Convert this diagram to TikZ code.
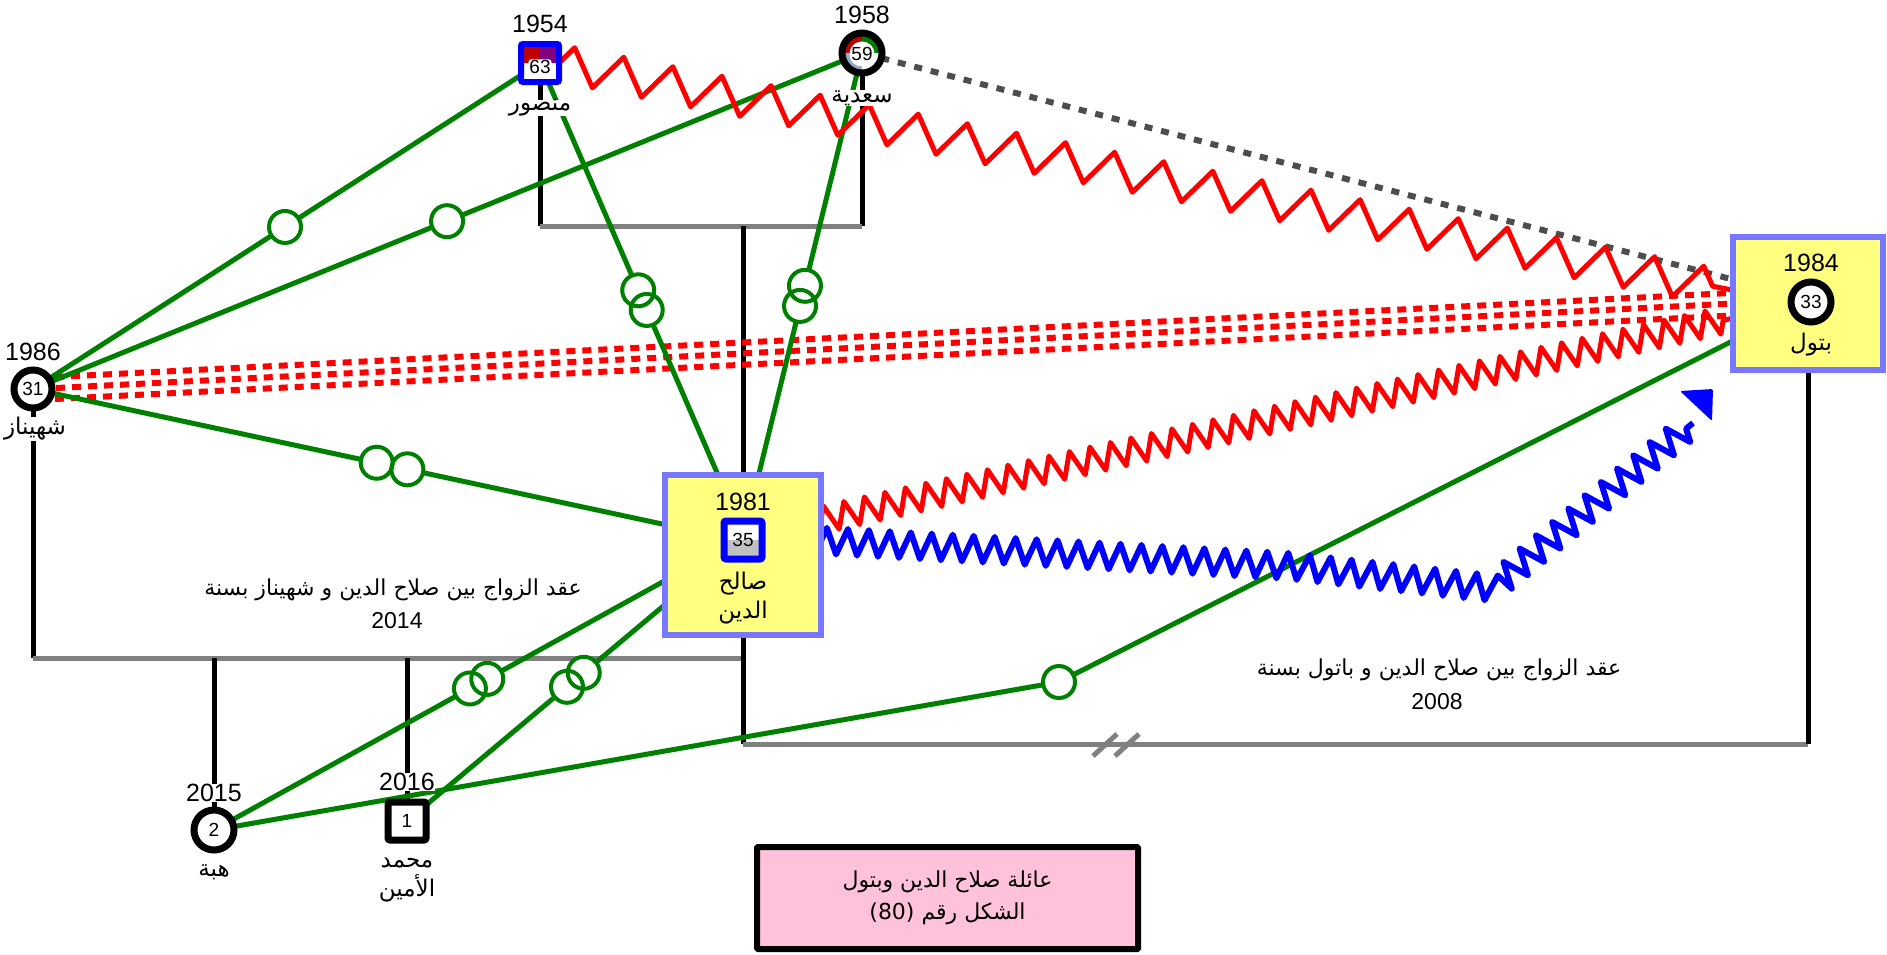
\documentclass[tikz,border=0pt]{standalone}
\usepackage{fontspec}
\setmainfont{Liberation Sans}
\newfontfamily\arfont[Script=Arabic]{DejaVu Sans}
\TeXXeTstate=1
\usetikzlibrary{decorations.pathmorphing,backgrounds,calc}
\newcommand{\AR}[1]{{\arfont\beginR #1\endR}}
\definecolor{boxblue}{RGB}{119,119,255}
\definecolor{gen}{RGB}{0,128,0}
\definecolor{lineg}{RGB}{128,128,128}
\definecolor{yel}{RGB}{255,255,128}
\definecolor{pinkf}{RGB}{255,194,218}
\definecolor{dred}{RGB}{192,0,0}
\definecolor{purp}{RGB}{128,0,128}
\definecolor{gblue}{RGB}{153,170,204}
\definecolor{dotg}{RGB}{77,77,77}
\definecolor{lgrey}{RGB}{192,192,192}
\begin{document}
\begin{tikzpicture}[x=1pt,y=-1pt,
  every node/.style={outer sep=0pt},
  yr/.style={font=\fontsize{25}{25}\selectfont, fill=white, inner sep=0.5pt},
  nm/.style={font=\arfont\fontsize{23}{29}\selectfont, fill=white, inner sep=0pt, align=center},
  lab/.style={font=\arfont\fontsize{22}{26}\selectfont, inner sep=1pt},
  num/.style={font=\fontsize{19}{19}\selectfont, inner sep=0.5pt},
  fem/.style={circle, draw=black, line width=7pt, fill=white, minimum size=40pt, inner sep=0pt},
  mal/.style={rectangle, draw=black, line width=7pt, fill=white, minimum size=38pt, inner sep=0pt, rounded corners=2pt},
  fam/.style={rectangle, draw=boxblue, fill=yel, line width=6pt, inner sep=0pt},
  kinline/.style={draw=black, line width=5pt},
  barline/.style={draw=lineg, line width=5pt},
  fus/.style={draw=gen, line width=5pt},
  ringf/.style={circle, fill=white, minimum size=32pt, inner sep=0pt},
  ringd/.style={circle, draw=gen, line width=4pt, minimum size=32pt, inner sep=0pt},
  hostbig/.style={draw=red, line width=5pt, line join=round, decorate, decoration={zigzag, segment length=50pt, amplitude=18pt}},
  hostfine/.style={draw=red, line width=5pt, line join=round, decorate, decoration={zigzag, segment length=21pt, amplitude=13pt}},
  abuse/.style={draw=blue, line width=6pt, line join=round, decorate, decoration={zigzag, segment length=21pt, amplitude=13pt}},
  distant/.style={draw=red, line width=6pt, dash pattern=on 9pt off 7pt},
  cutoff/.style={draw=dotg, line width=6pt, dash pattern=on 8pt off 9pt},
]
\useasboundingbox (0,0) rectangle (1887,954);

% ---- people ----
\node[yr] (y1954) at (540,24) {1954};
\node[mal, draw=blue, line width=6pt, path picture={
  \fill[dred] (path picture bounding box.north west) rectangle (path picture bounding box.center);
  \fill[purp] (path picture bounding box.north) rectangle (path picture bounding box.east);}] (mansour) at (540,63) {};
\node[num, fill=white, rounded corners=3pt, inner sep=1pt] (t63) at (540,67) {63};
\node[nm] (n-mansour) at (540,108) {\AR{منصور}};

\node[yr] (y1958) at (862,15) {1958};
\node[fem, path picture={
  \fill[dred] (path picture bounding box.north west) rectangle (path picture bounding box.center);
  \fill[gen] (path picture bounding box.north) rectangle (path picture bounding box.east);
  \fill[gblue] (path picture bounding box.west) rectangle (path picture bounding box.south);}] (saadia) at (862,53) {};
\node[num, circle, fill=white, minimum size=25pt, inner sep=0pt] (t59) at (862,54) {59};
\node[nm] (n-saadia) at (862,98) {\AR{سعدية}};

\node[yr] (y1986) at (33,352) {1986};
\node[fem, minimum size=38pt] (shahnaz) at (33,389) {};
\node[num] (t31) at (shahnaz) {31};
\node[nm] (n-shahnaz) at (35,429) {\AR{شهيناز}};

\node[fam, minimum width=156pt, minimum height=160pt] (salah) at (743,555) {};
\node[yr, fill=none] (y1981) at (743,502) {1981};
\node[mal, draw=blue, line width=7pt, path picture={
  \fill[lgrey] (path picture bounding box.west) rectangle (path picture bounding box.south east);}] (salahsq) at (743,540) {};
\node[num] (t35) at (salahsq) {35};
\node[nm, fill=none] (n-salah) at (743,598) {\AR{صالح}\\\AR{الدين}};

\node[fam, minimum width=150pt, minimum height=133pt] (batoul) at (1808,303.5) {};
\node[yr, fill=none] (y1984) at (1811,263) {1984};
\node[fem] (batoulc) at (1811,302) {};
\node[num] (t33) at (batoulc) {33};
\node[nm, fill=none] (n-batoul) at (1811,345) {\AR{بتول}};

\node[fem] (heba) at (214,830) {};
\node[num] (t2) at (heba) {2};
\node[yr] (y2015) at (214,793) {2015};
\node[nm] (n-heba) at (214,872) {\AR{هبة}};

\node[mal] (mohamed) at (407,821) {};
\node[num] (t1) at (mohamed) {1};
\node[yr] (y2016) at (407,782) {2016};
\node[nm] (n-mohamed) at (407,880) {\AR{محمد}\\\AR{الأمين}};

% ---- labels ----
\node[lab] (l1a) at (393,590) {\AR{عقد الزواج بين صلاح الدين و شهيناز بسنة}};
\node[yr, fill=none, font=\fontsize{23}{23}\selectfont] (l1b) at (397,621) {2014};
\node[lab] (l2a) at (1439,670) {\AR{عقد الزواج بين صلاح الدين و باتول بسنة}};
\node[yr, fill=none, font=\fontsize{23}{23}\selectfont] (l2b) at (1437,702) {2008};

\node[draw=black, fill=pinkf, line width=6pt, minimum width=381pt, minimum height=102pt, rounded corners=1pt,
      align=center, font=\arfont\fontsize{22}{32}\selectfont] (title) at (947.5,898)
  {\AR{عائلة صلاح الدين وبتول}\\\AR{الشكل رقم \beginL(80)\endL}};

% ---- anchor points ----
\coordinate (st1) at ($(salah.north west)!0.34!(salah.north east)$);
\coordinate (st2) at ($(salah.north west)!0.60!(salah.north east)$);
\coordinate (sl1) at ($(salah.north west)!0.31!(salah.south west)$);
\coordinate (sl2) at ($(salah.north west)!0.66!(salah.south west)$);
\coordinate (sl3) at ($(salah.north west)!0.81!(salah.south west)$);
\coordinate (sr1) at ($(salah.north east)!0.28!(salah.south east)$);
\coordinate (sr2) at ($(salah.north east)!0.41!(salah.south east)$);
\coordinate (bd) at ($(batoul.north west)!0.32!(batoul.south west)$);
\coordinate (br1) at ($(batoul.north west)!0.40!(batoul.south west)$);
\coordinate (bq1) at ($(batoul.north west)!0.42!(batoul.south west)$);
\coordinate (bq2) at ($(batoul.north west)!0.50!(batoul.south west)$);
\coordinate (bq3) at ($(batoul.north west)!0.59!(batoul.south west)$);
\coordinate (br2) at ($(batoul.north west)!0.61!(batoul.south west)$);
\coordinate (bg) at ($(batoul.north west)!0.78!(batoul.south west)$);
\coordinate (hq1) at ($(shahnaz.east)+(3,-12)$);
\coordinate (hq2) at ($(shahnaz.east)+(4,-1)$);
\coordinate (hq3) at ($(shahnaz.east)+(3,10)$);
\coordinate (bend) at (1059,682);
\coordinate (bl1) at (1290,566);
\coordinate (bl2) at (1492,588);
\coordinate (bl3) at (1693,423);
\coordinate (ah1) at (1680,391);
\coordinate (ah2) at (1713,389);
\coordinate (ah3) at (1712,421);
\coordinate (pm) at (0,226);
\coordinate (m1) at (0,658);
\coordinate (m2) at (0,744);
\coordinate (bk1) at (1093,756);
\coordinate (bk2) at (1117,734);
\coordinate (bk3) at (1115,756);
\coordinate (bk4) at (1139,734);

\begin{scope}[on background layer]
% kinship
\draw[kinline] (mansour.south) -- (mansour.south |- pm);
\draw[kinline] (saadia.south) -- (saadia.south |- pm);
\draw[barline] (mansour.south |- pm) -- (saadia.south |- pm);
\draw[kinline] (salah.north |- pm) -- (salah.north);
\draw[kinline] (shahnaz.south) -- (shahnaz.south |- m1);
\draw[barline] (shahnaz.south |- m1) -- (salah.south |- m1);
\draw[kinline] (salah.south) -- (salah.south |- m2);
\draw[barline] (salah.south |- m2) -- (batoul.south |- m2);
\draw[kinline] (batoul.south) -- (batoul.south |- m2);
\draw[barline] (bk1) -- (bk2);
\draw[barline] (bk3) -- (bk4);
\draw[kinline] (heba.north |- m1) -- (heba.north);
\draw[kinline] (mohamed.north |- m1) -- (mohamed.north);
% distant / cutoff
\draw[cutoff] (saadia) -- (bd);
\draw[distant] (hq1) -- (bq1);
\draw[distant] (hq2) -- (bq2);
\draw[distant] (hq3) -- (bq3);
% fusion lines
\draw[fus] (shahnaz) -- (mansour) node[pos=0.5, ringf]{} node[pos=0.5, ringd]{};
\draw[fus] (shahnaz) -- (saadia) node[pos=0.5, ringf]{} node[pos=0.5, ringd]{};
\draw[fus] (shahnaz) -- (sl1) node[pos=0.53, ringf]{} node[pos=0.58, ringf]{} node[pos=0.53, ringd]{} node[pos=0.58, ringd]{};
\draw[fus] (mansour) -- (st1) node[pos=0.53, ringf]{} node[pos=0.58, ringf]{} node[pos=0.53, ringd]{} node[pos=0.58, ringd]{};
\draw[fus] (saadia) -- (st2) node[pos=0.53, ringf]{} node[pos=0.58, ringf]{} node[pos=0.53, ringd]{} node[pos=0.58, ringd]{};
\draw[fus] (sl2) -- (heba) node[pos=0.41, ringf]{} node[pos=0.45, ringf]{} node[pos=0.41, ringd]{} node[pos=0.45, ringd]{};
\draw[fus] (sl3) -- (mohamed) node[pos=0.34, ringf]{} node[pos=0.41, ringf]{} node[pos=0.34, ringd]{} node[pos=0.41, ringd]{};
\draw[fus] (heba) -- (bend) -- (bg);
\node[ringf] (ringbend) at (bend) {};
\node[ringd] (ringbend2) at (bend) {};
% hostile
\draw[hostbig] (mansour.east) -- (br1);
\draw[hostfine] (sr1) -- (br2);
\draw[abuse] (sr2) -- (bl1) -- (bl2) -- (bl3);
\fill[blue, rounded corners=2pt] (ah1) -- (ah2) -- (ah3) -- cycle;
\end{scope}
\end{tikzpicture}
\end{document}
